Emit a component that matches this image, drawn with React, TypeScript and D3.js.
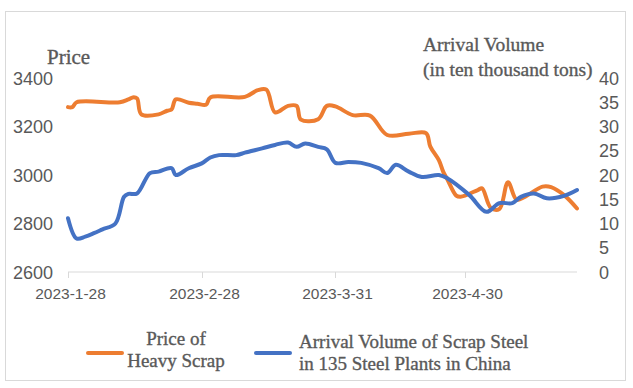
import React from "react";
import * as d3 from "d3";

const priceDates = ["2023-01-28","2023-01-29","2023-01-30","2023-02-09","2023-02-11","2023-02-12","2023-02-13","2023-02-14","2023-02-18","2023-02-20","2023-02-21","2023-02-22","2023-02-25","2023-02-27","2023-03-01","2023-03-02","2023-03-10","2023-03-13","2023-03-15","2023-03-17","2023-03-20","2023-03-22","2023-03-23","2023-03-27","2023-03-29","2023-03-31","2023-04-04","2023-04-08","2023-04-12","2023-04-17","2023-04-21","2023-04-22","2023-04-24","2023-04-25","2023-04-26","2023-04-28","2023-04-29","2023-05-03","2023-05-04","2023-05-06","2023-05-08","2023-05-10","2023-05-12","2023-05-14","2023-05-18","2023-05-20","2023-05-23","2023-05-26"];
const priceValues = [3280,3280,3300,3300,3312,3320,3316,3250,3250,3265,3270,3312,3298,3294,3290,3320,3322,3350,3352,3258,3285,3285,3228,3230,3285,3283,3247,3245,3165,3170,3173,3117,3060,3013,2980,2915,2910,2938,2945,2865,2860,2970,2898,2911,2952,2950,2917,2862];

const volumeDates = ["2023-01-28","2023-01-30","2023-02-01","2023-02-03","2023-02-05","2023-02-08","2023-02-10","2023-02-11","2023-02-13","2023-02-16","2023-02-18","2023-02-21","2023-02-22","2023-02-25","2023-02-28","2023-03-02","2023-03-04","2023-03-08","2023-03-10","2023-03-14","2023-03-17","2023-03-20","2023-03-22","2023-03-24","2023-03-27","2023-03-29","2023-03-31","2023-04-03","2023-04-06","2023-04-10","2023-04-12","2023-04-14","2023-04-17","2023-04-20","2023-04-24","2023-04-26","2023-05-01","2023-05-05","2023-05-08","2023-05-11","2023-05-13","2023-05-16","2023-05-19","2023-05-23","2023-05-26"];
const volumeValues = [11.1,6.9,7.3,8.0,8.8,10.0,15.5,16.1,16.2,20.4,20.7,21.4,20.0,21.4,22.4,23.6,24.1,24.1,24.6,25.5,26.2,26.7,25.8,26.5,25.8,25.3,22.5,22.7,22.5,21.4,20.4,22.1,20.7,19.6,20.0,19.3,15.9,12.4,14.2,14.2,15.5,16.2,15.2,15.7,16.9];

const xTickDates = ["2023-01-28","2023-02-28","2023-03-31","2023-04-30"];
const xTickLabels = ["2023-1-28","2023-2-28","2023-3-31","2023-4-30"];
const leftTicks = [2600,2800,3000,3200,3400];
const rightTicks = [0,5,10,15,20,25,30,35,40];

const parse = d3.timeParse("%Y-%m-%d");

export default function App() {
  const W = 633, H = 388;
  const x = d3.scaleTime().domain([parse("2023-01-28")!, parse("2023-05-26")!]).range([68, 577]);
  const yL = d3.scaleLinear().domain([2600, 3400]).range([272, 78]);
  const yR = d3.scaleLinear().domain([0, 40]).range([272, 78]);

  const priceData = priceDates.map((d, i) => [x(parse(d)!), yL(priceValues[i])] as [number, number]);
  const volData = volumeDates.map((d, i) => [x(parse(d)!), yR(volumeValues[i])] as [number, number]);
  const line = d3.line().curve(d3.curveCatmullRom.alpha(0.5));

  const grey = "#595959";
  const sans = "'Liberation Sans', Arial, sans-serif";
  const serif = "'Liberation Serif', 'Times New Roman', serif";
  const serifStyle = { fontFamily: serif, fill: grey, stroke: grey, strokeWidth: 0.35 };

  return (
    <svg width={W} height={H} style={{ position: "absolute", left: 0, top: 0, background: "#fff" }}>
      <rect x={0} y={0} width={W} height={H} fill="#fff" />
      <rect x={5.5} y={11.5} width={620} height={369} fill="#fff" stroke="#d9d9d9" strokeWidth={1} />
      <line x1={68} x2={577} y1={272} y2={272} stroke="#d9d9d9" strokeWidth={1} />
      {xTickDates.map((d, i) => {
        const xp = Math.round(x(parse(d)!)) + 0.5;
        return (
          <g key={d}>
            <line x1={xp} x2={xp} y1={272} y2={278} stroke="#d9d9d9" />
            <text x={xp + 2} y={299} textAnchor="middle" fontFamily={sans} fontSize={15.5} fill={grey}>{xTickLabels[i]}</text>
          </g>
        );
      })}
      {leftTicks.map(t => (
        <text key={t} x={53} y={yL(t) + 6.5} textAnchor="end" fontFamily={sans} fontSize={18} fill={grey}>{t}</text>
      ))}
      {rightTicks.map(t => (
        <text key={t} x={599} y={yR(t) + 6.5} textAnchor="start" fontFamily={sans} fontSize={18} fill={grey}>{t}</text>
      ))}
      <text x={47} y={64} fontSize={21} style={serifStyle}>Price</text>
      <text x={423} y={51} fontSize={19.5} style={serifStyle}>Arrival Volume</text>
      <text x={423} y={76} fontSize={19.5} style={serifStyle}>(in ten thousand tons)</text>

      <path d={line(priceData) || ""} fill="none" stroke="#ED7D31" strokeWidth={4} strokeLinejoin="round" strokeLinecap="round" />
      <path d={line(volData) || ""} fill="none" stroke="#4472C4" strokeWidth={4} strokeLinejoin="round" strokeLinecap="round" />

      <line x1={88} x2={122} y1={353} y2={353} stroke="#ED7D31" strokeWidth={4} strokeLinecap="round" />
      <text x={176} y={345} textAnchor="middle" fontSize={19} style={serifStyle}>Price of</text>
      <text x={176} y={367} textAnchor="middle" fontSize={19} style={serifStyle}>Heavy Scrap</text>
      <line x1={256} x2={290} y1={353} y2={353} stroke="#4472C4" strokeWidth={4} strokeLinecap="round" />
      <text x={299} y={348} fontSize={19} style={serifStyle}>Arrival Volume of Scrap Steel</text>
      <text x={299} y={370} fontSize={19} style={serifStyle}>in 135 Steel Plants in China</text>
    </svg>
  );
}
